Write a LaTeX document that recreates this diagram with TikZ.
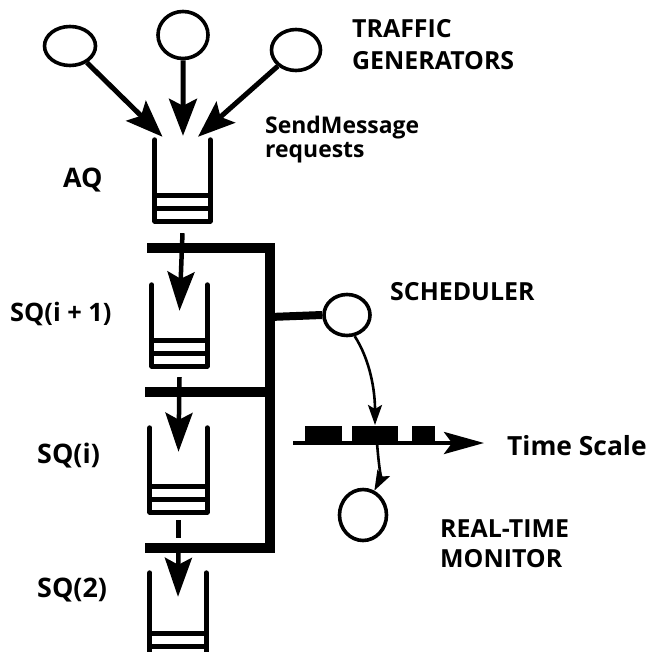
\documentclass[tikz,border=0pt]{standalone}
\usepackage{fontspec}
\setmainfont{Open Sans}
\usetikzlibrary{arrows.meta,shapes.geometric,calc}
\begin{document}
\begin{tikzpicture}[x=1bp,y=-1bp,
  lbl/.style={font=\fontsize{25}{30}\selectfont\bfseries, inner sep=0pt, anchor=base west},
  smlbl/.style={lbl, font=\fontsize{23}{30}\selectfont\bfseries},
  biglbl/.style={lbl, font=\fontsize{27}{30}\selectfont\bfseries},
  proc/.style={ellipse, draw, line width=3.6bp, inner sep=0pt},
  queue/.style={rectangle, inner sep=0pt, minimum width=55bp},
  wall/.style={line width=5bp, line cap=round, line join=round},
  bar/.style={line width=5bp},
  bus/.style={line width=10bp},
  bigarrow/.style={line width=5bp, -{Stealth[length=37bp,width=28bp,inset=7bp]}},
  qarrow/.style={line width=4.5bp, -{Stealth[length=39bp,width=27bp,inset=7bp]}},
  smallarrow/.style={line width=2.6bp, -{Stealth[length=20bp,width=14bp,inset=4bp]}},
]
\useasboundingbox (0,0) rectangle (650,652);
\clip (0,0) rectangle (650,652);

% traffic generators
\node[proc, minimum width=51bp, minimum height=39bp] (g1) at (70,46) {};
\node[proc, minimum width=50bp, minimum height=47bp] (g2) at (183,35) {};
\node[proc, minimum width=49bp, minimum height=41bp] (g3) at (296,50) {};

% queues
\node[queue, minimum height=81bp] (aq) at (182.5,180.5) {};
\node[queue, minimum height=81bp] (sq1) at (179.5,325.5) {};
\node[queue, minimum width=57bp, minimum height=84bp] (sq2) at (178.5,470) {};
\node[queue, minimum width=56bp, minimum height=86bp] (sq3) at (178,616) {};

\foreach \q in {aq,sq1,sq2,sq3}{
  \draw[wall] (\q.north west) -- (\q.south west) -- (\q.south east) -- (\q.north east);
  \draw[bar] ($(\q.south west)+(0,-13)$) -- ($(\q.south east)+(0,-13)$);
  \draw[bar] ($(\q.south west)+(0,-26)$) -- ($(\q.south east)+(0,-26)$);
}

% scheduler and monitor
\node[proc, minimum width=46bp, minimum height=41bp] (sched) at (347,315) {};
\node[proc, minimum width=47bp, minimum height=51bp] (mon) at (363,515) {};

% bus
\coordinate (busTL) at (147,248);
\coordinate (busTR) at (270,248);
\coordinate (busBR) at (270,548);
\coordinate (busBL) at (145,548);
\coordinate (busML) at (145,392);
\coordinate (busMR) at (270,392);
\coordinate (busS) at (270,317);
\draw[bus] (busTL) -- (busTR) -- (busBR) -- (busBL);
\draw[bus] (busML) -- (busMR);
\draw[bus, line width=8bp] (busS) -- (sched.west);

% traffic arrows
\draw[bigarrow] (g1) -- ($(aq.north)+(-20,-3)$);
\draw[bigarrow] (g2) -- ($(aq.north)+(0.5,-4)$);
\draw[bigarrow] (g3) -- ($(aq.north)+(15.5,-3)$);

% queue arrows
\draw[qarrow] ($(aq.south)+(0,12)$) -- ($(sq1.north)+(0,26)$);
\draw[qarrow] ($(sq1.south)+(0,11)$) -- ($(sq2.north)+(0,24)$);
\draw[line width=4.5bp] ($(sq2.south)+(0,8)$) -- ($(sq2.south)+(0,26)$);
\draw[qarrow] ($(sq2.south)+(0,34)$) -- ($(sq3.north)+(0,24)$);

% time scale
\coordinate (t0) at (293,443);
\coordinate (t1) at (484,443);
\draw[line width=4bp, -{Stealth[length=40bp,width=22bp,inset=8bp]}] (t0) -- (t1);
\fill (305,426) rectangle (342,443);
\fill (352,426) rectangle (398,443);
\fill (412,426) rectangle (435,443);
\coordinate (tin) at (375,425);
\coordinate (tout) at (377,443);
\draw[smallarrow] (sched.-70) .. controls (370,360) and (375,390) .. (tin);
\draw[smallarrow] (tout) .. controls (379,468) and (381,478) .. (mon.65);

% labels
\node[lbl] (tg1) at (352,38) {TRAFFIC};
\node[lbl] (tg2) at (352,70) {GENERATORS};
\node[smlbl] (sm1) at (265,133) {SendMessage};
\node[smlbl] (sm2) at (265,157) {requests};
\node[biglbl] (aql) at (63,187) {AQ};
\node[lbl, font={\fontsize{25.5}{30}\selectfont\bfseries}] (l1) at (10,321) {SQ(i + 1)};
\node[biglbl] (l2) at (37,463) {SQ(i)};
\node[biglbl] (l3) at (37,597) {SQ(2)};
\node[lbl] (schl) at (390,300) {SCHEDULER};
\node[lbl, font={\fontsize{26.5}{30}\selectfont\bfseries}] (tsl) at (507,455) {Time Scale};
\node[lbl] (rt1) at (440,537) {REAL-TIME};
\node[lbl] (rt2) at (440,567) {MONITOR};
\end{tikzpicture}
\end{document}
